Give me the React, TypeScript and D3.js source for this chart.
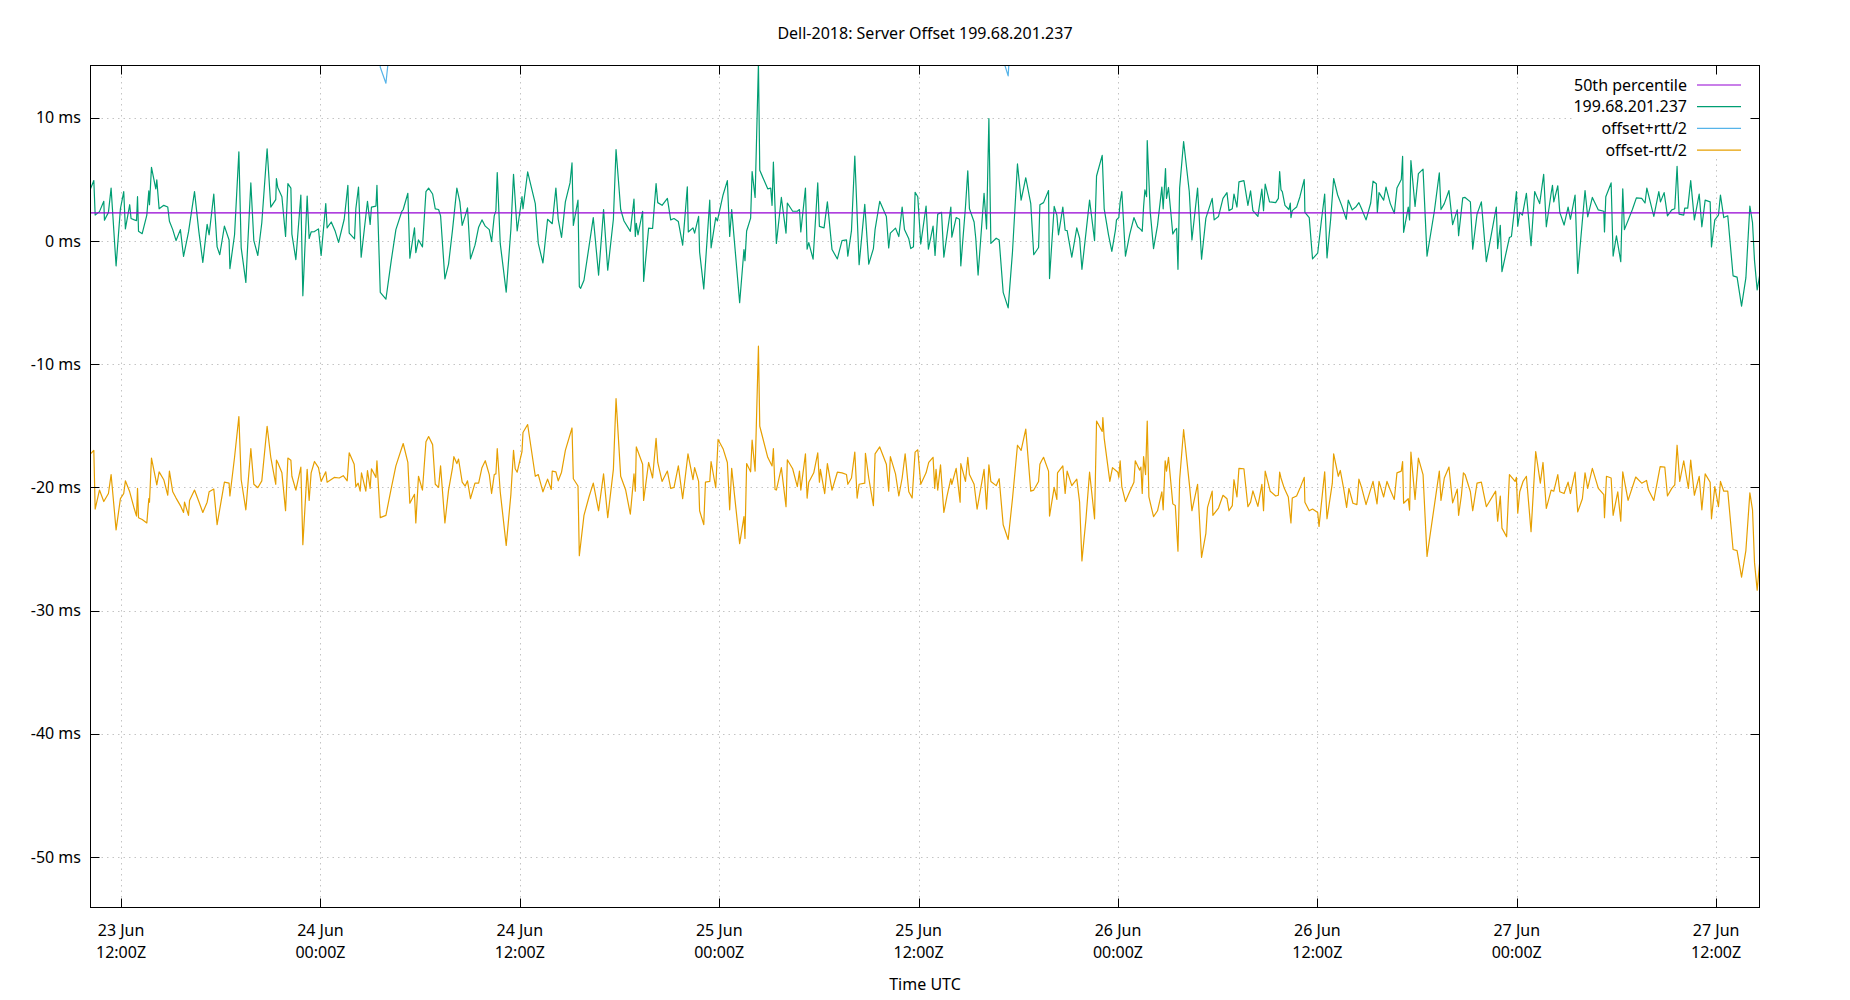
import * as d3 from 'd3'

const WIDTH = 1850
const HEIGHT = 1000
const PLOT = { left: 90.5, right: 1759.5, top: 65.5, bottom: 907.5 }

const TITLE = 'Dell-2018: Server Offset 199.68.201.237'
const X_LABEL = 'Time UTC'
// hours in the series count from 23 Jun 12:00Z
const START = Date.UTC(2018, 5, 23, 12)
const X_DOMAIN_HOURS = [-1.84, 98.61]
const Y_DOMAIN = [-54.1, 14.24]
const Y_TICKS = [10, 0, -10, -20, -30, -40, -50]
const MEDIAN = 2.28

const LEGEND = [
  { label: '50th percentile', color: '#9400d3' },
  { label: '199.68.201.237', color: '#009e73' },
  { label: 'offset+rtt/2', color: '#56b4e9' },
  { label: 'offset-rtt/2', color: '#e69f00' },
]

// [hours, ms]
const OFFSET: [number, number][] = [
  [-1.84,4.23],[-1.64,4.90],[-1.56,2.10],[-1.30,2.38],[-1.04,3.22],[-1.00,1.68],[-0.76,2.32],[-0.60,4.29],[-0.30,-2.02],[-0.04,2.61],[0.16,4.01],[0.26,0.98],[0.52,2.94],[0.60,1.82],[0.80,1.71],[0.93,1.65],[0.99,3.59],[1.05,0.78],[1.27,0.59],[1.55,2.10],[1.67,4.06],[1.71,2.94],[1.83,5.97],[2.09,4.23],[2.15,4.96],[2.29,2.61],[2.57,2.89],[2.81,2.75],[2.91,1.60],[3.11,0.92],[3.31,0.03],[3.57,0.92],[3.76,-1.26],[4.06,0.73],[4.42,4.01],[4.68,0.78],[4.92,-1.74],[5.18,1.34],[5.30,0.50],[5.58,3.81],[5.78,-0.48],[5.94,-1.12],[6.22,1.20],[6.50,0.08],[6.55,-2.24],[6.83,0.50],[7.09,7.23],[7.23,-0.56],[7.51,-3.36],[7.81,4.71],[7.99,0.03],[8.23,-1.18],[8.47,1.48],[8.79,7.48],[9.01,2.75],[9.31,3.36],[9.35,5.07],[9.43,4.34],[9.68,3.59],[9.90,0.36],[10.04,4.65],[10.22,4.29],[10.28,0.56],[10.52,-1.51],[10.82,3.73],[10.94,-4.45],[11.20,3.64],[11.32,0.20],[11.44,0.73],[11.64,0.76],[11.88,0.98],[12.04,-1.18],[12.32,3.03],[12.40,1.06],
  [12.65,1.54],[12.89,0.78],[13.09,-0.11],[13.43,1.76],[13.65,4.51],[13.73,0.64],[14.05,0.17],[14.13,2.61],[14.29,4.37],[14.45,-1.32],[14.83,3.22],[14.99,1.34],[15.07,2.75],[15.34,2.83],[15.40,4.51],[15.60,-4.17],[15.94,-4.73],[16.26,-1.60],[16.54,0.92],[16.90,2.41],[16.98,2.55],[17.26,3.87],[17.38,-1.40],[17.66,1.06],[17.74,-0.95],[17.90,0.08],[18.14,-0.48],[18.35,4.01],[18.51,4.29],[18.75,3.81],[18.91,2.61],[19.11,2.55],[19.23,2.04],[19.49,-3.08],[19.71,-1.88],[19.95,0.92],[20.21,4.29],[20.39,3.17],[20.53,1.26],[20.71,2.04],[20.85,2.69],[21.03,-1.46],[21.30,-0.34],[21.52,1.12],[21.72,1.71],[21.92,1.20],[22.16,0.92],[22.30,-0.06],[22.46,2.04],[22.56,2.46],[22.64,5.55],[22.82,-0.20],[23.18,-4.15],[23.46,0.92],[23.62,5.41],[23.84,0.81],[24.13,3.59],[24.19,2.61],[24.47,5.60],[24.93,3.03],[25.11,-0.20],[25.39,-1.79],[25.67,1.76],[25.95,1.40],[26.17,4.29],[26.31,1.76],[26.51,0.28],[26.74,3.17],
  [27.02,4.71],[27.14,6.33],[27.22,1.26],[27.50,3.31],[27.58,-3.70],[27.66,-3.84],[27.86,-3.19],[28.16,-0.48],[28.42,1.90],[28.74,-2.77],[29.04,2.55],[29.29,-2.38],[29.63,1.76],[29.79,7.42],[30.07,2.55],[30.27,1.62],[30.65,0.78],[30.87,3.39],[30.95,0.36],[31.01,1.43],[31.11,0.50],[31.39,2.41],[31.45,-3.28],[31.75,1.04],[31.99,1.01],[32.20,4.65],[32.30,3.11],[32.56,2.89],[32.88,3.45],[33.08,1.71],[33.28,1.82],[33.54,1.57],[33.80,-0.34],[34.08,4.40],[34.14,0.73],[34.42,1.06],[34.52,0.64],[34.76,1.99],[34.82,-0.90],[35.07,-3.89],[35.43,3.31],[35.51,-0.56],[35.79,1.90],[35.89,1.62],[36.23,3.73],[36.49,4.90],[36.63,0.36],[36.75,2.55],[37.23,-5.01],[37.49,-0.70],[37.55,-1.60],[37.65,0.81],[37.89,1.85],[37.98,5.63],[38.16,3.53],[38.36,14.4],[38.44,5.74],[38.92,4.23],[39.10,4.29],[39.18,2.89],[39.26,6.39],[39.44,-0.20],[39.74,3.53],[40.02,0.64],[40.10,3.08],[40.42,2.41],[40.70,2.41],[40.83,2.55],[40.91,0.73],
  [41.19,4.29],[41.29,-0.67],[41.39,-0.14],[41.65,-1.48],[41.93,4.71],[42.03,1.18],[42.31,1.06],[42.51,3.17],[42.79,-0.70],[43.11,-1.46],[43.39,0.03],[43.66,0.08],[43.74,-1.23],[43.96,0.84],[44.16,6.89],[44.42,-1.93],[44.76,2.97],[45.00,-1.88],[45.28,-0.62],[45.38,0.92],[45.66,3.22],[46.06,1.99],[46.20,-0.56],[46.30,0.64],[46.61,1.04],[46.81,0.36],[47.01,2.75],[47.15,0.92],[47.41,0.17],[47.53,-0.62],[47.69,-0.48],[47.79,3.95],[47.95,3.59],[48.13,-0.25],[48.45,2.83],[48.59,-0.67],[48.87,1.20],[48.99,-1.18],[49.15,2.18],[49.38,2.32],[49.52,-1.32],[49.94,2.75],[50.00,0.31],[50.26,1.90],[50.46,1.76],[50.54,-2.02],[50.82,2.75],[50.96,5.69],[51.06,2.61],[51.34,1.54],[51.44,0.22],[51.58,-2.77],[51.94,3.87],[52.09,0.98],[52.23,9.94],[52.35,-0.20],[52.67,0.22],[52.85,0.08],[53.09,-4.17],[53.39,-5.43],[53.65,-0.90],[53.95,6.25],[54.17,3.31],[54.45,5.13],[54.75,3.03],[54.93,-1.12],[55.22,-0.53],[55.30,2.94],
  [55.52,3.11],[55.82,4.09],[55.88,-3.05],[56.16,2.80],[56.32,2.10],[56.42,0.50],[56.68,2.75],[56.82,0.87],[56.94,0.84],[57.22,-1.32],[57.52,1.06],[57.69,0.22],[57.83,-2.30],[58.29,3.31],[58.59,0.03],[58.71,5.27],[59.05,6.95],[59.17,2.61],[59.43,0.50],[59.63,-0.84],[59.85,0.92],[59.91,1.71],[60.05,1.90],[60.13,3.17],[60.23,4.01],[60.45,-1.23],[60.70,0.50],[60.96,1.90],[61.18,1.15],[61.38,0.92],[61.46,0.78],[61.54,2.75],[61.62,4.15],[61.72,3.59],[61.76,8.15],[61.94,2.38],[62.14,-0.62],[62.38,1.26],[62.64,4.37],[62.72,2.61],[62.86,5.88],[62.92,3.45],[63.04,4.34],[63.30,0.56],[63.45,0.92],[63.53,1.01],[63.61,-2.30],[63.71,4.29],[63.95,8.07],[64.29,4.01],[64.45,0.08],[64.79,4.29],[65.03,-1.48],[65.29,1.85],[65.67,3.45],[65.79,1.71],[66.05,1.99],[66.32,3.45],[66.56,3.92],[66.68,2.46],[66.88,2.61],[66.98,3.81],[67.16,2.75],[67.28,4.79],[67.58,4.90],[67.82,2.89],[67.98,4.06],[68.12,2.46],[68.42,1.99],[68.66,4.20],[68.76,2.46],[68.86,4.62],[69.12,3.17],[69.49,3.11],[69.65,3.45],[69.73,5.63],
  [69.81,4.15],[69.89,4.01],[70.05,2.89],[70.29,2.55],[70.37,3.08],[70.41,1.90],[70.49,2.46],[70.75,2.75],[70.95,3.59],[71.21,4.99],[71.25,2.32],[71.51,1.90],[71.71,-1.46],[72.02,-0.98],[72.24,1.62],[72.44,3.81],[72.58,-1.37],[72.80,1.76],[72.98,5.07],[73.22,3.73],[73.46,2.89],[73.74,1.76],[73.86,3.31],[74.10,2.52],[74.34,2.80],[74.50,3.11],[74.66,2.61],[74.93,1.71],[75.21,3.08],[75.35,4.85],[75.55,4.65],[75.61,2.32],[75.71,3.92],[75.99,3.31],[76.13,4.37],[76.39,3.03],[76.63,2.24],[76.79,4.29],[77.05,4.99],[77.13,6.86],[77.19,0.70],[77.47,2.75],[77.55,1.71],[77.63,6.53],[77.88,2.80],[78.08,5.46],[78.36,5.83],[78.60,-1.23],[79.04,2.41],[79.34,5.52],[79.44,2.55],[79.64,3.03],[79.92,4.09],[80.14,1.32],[80.42,2.52],[80.50,0.42],[80.67,2.52],[80.75,3.50],[80.89,3.53],[81.21,3.17],[81.35,-0.67],[81.61,2.18],[81.87,3.17],[82.17,-1.68],[82.77,2.75],[82.85,-0.62],[83.01,1.26],[83.11,-2.49],[83.56,0.28],[83.68,0.36],[83.98,4.01],[84.06,1.20],
  [84.18,2.32],[84.34,2.10],[84.58,3.87],[84.86,-0.39],[85.08,4.01],[85.38,3.03],[85.62,5.41],[85.78,1.15],[86.07,3.87],[86.15,4.51],[86.23,3.17],[86.47,4.48],[86.59,2.32],[86.85,1.29],[87.09,2.75],[87.23,1.76],[87.51,3.73],[87.67,-2.63],[88.11,4.09],[88.27,1.96],[88.55,3.53],[88.91,2.52],[89.24,2.41],[89.28,0.73],[89.36,3.59],[89.68,4.71],[89.80,-1.23],[90.00,0.42],[90.26,-1.68],[90.38,4.23],[90.48,0.92],[90.96,2.55],[91.20,3.50],[91.52,3.45],[91.72,3.08],[91.83,4.29],[92.25,1.99],[92.55,4.01],[92.65,3.17],[92.87,3.92],[93.07,2.04],[93.33,2.52],[93.51,2.61],[93.65,6.05],[93.77,2.18],[94.05,2.10],[94.11,2.66],[94.29,2.66],[94.47,4.90],[94.69,1.71],[94.98,3.81],[95.14,1.15],[95.34,3.31],[95.64,3.17],[95.72,-0.48],[95.92,1.71],[96.14,2.10],[96.26,3.73],[96.46,1.90],[96.70,2.04],[97.02,-2.83],[97.26,-2.94],[97.53,-5.29],[97.79,-3.00],[98.03,2.83],[98.19,1.48],[98.31,-1.60],[98.47,-3.98],[98.63,-2.72],
]

// offset-rtt/2, [hours, ms]
const OFFSET_MINUS: [number, number][] = [
  [-1.84,-17.28],[-1.64,-17.00],[-1.56,-21.76],[-1.30,-20.22],[-1.04,-21.15],[-0.76,-20.50],[-0.60,-18.96],[-0.30,-23.45],[-0.04,-20.92],[0.16,-20.50],[0.26,-19.47],[0.52,-20.36],[0.80,-21.76],[0.93,-22.33],[0.99,-20.08],[1.05,-22.46],[1.27,-22.61],[1.55,-22.89],[1.67,-20.92],[1.71,-21.20],[1.83,-17.62],[2.09,-19.38],[2.15,-19.80],[2.29,-18.74],[2.57,-19.38],[2.81,-20.64],[2.91,-18.68],[3.11,-20.36],[3.31,-20.87],[3.57,-21.48],[3.76,-22.04],[3.82,-21.20],[4.06,-22.27],[4.12,-21.06],[4.42,-20.22],[4.68,-21.15],[4.92,-22.04],[5.18,-21.20],[5.30,-20.36],[5.58,-20.14],[5.78,-23.03],[5.94,-21.76],[6.22,-19.58],[6.50,-19.66],[6.55,-20.70],[6.83,-17.56],[7.09,-14.26],[7.23,-19.38],[7.51,-21.82],[7.81,-16.86],[7.99,-19.75],[8.23,-20.03],[8.47,-19.47],[8.79,-15.04],[9.01,-17.56],[9.31,-19.75],[9.35,-17.79],[9.43,-17.98],[9.68,-18.82],[9.90,-21.90],[10.04,-17.62],[10.22,-17.79],[10.28,-19.10],[10.52,-20.22],[10.82,-18.35],[10.94,-24.65],[11.20,-18.54],[11.32,-21.06],[11.44,-18.82],[11.64,-17.90],[11.88,-18.40],[12.04,-19.52],[12.32,-18.74],[12.40,-19.58],
  [12.83,-19.19],[13.13,-19.24],[13.37,-19.05],[13.61,-19.47],[13.73,-17.20],[14.03,-18.12],[14.13,-19.94],[14.27,-19.66],[14.39,-20.31],[14.47,-18.82],[14.73,-20.31],[14.83,-18.63],[14.99,-20.08],[15.07,-18.49],[15.34,-19.19],[15.40,-17.84],[15.60,-22.46],[15.94,-22.27],[16.26,-20.08],[16.54,-18.26],[16.98,-16.44],[17.26,-17.98],[17.38,-21.29],[17.66,-20.56],[17.74,-22.89],[17.90,-19.10],[18.14,-20.22],[18.35,-16.30],[18.51,-15.88],[18.75,-16.53],[18.91,-19.75],[19.11,-20.00],[19.23,-18.26],[19.49,-22.89],[19.71,-20.22],[19.95,-18.40],[20.03,-17.51],[20.21,-18.07],[20.31,-17.70],[20.53,-19.58],[20.71,-19.89],[20.85,-19.47],[21.03,-20.92],[21.30,-19.66],[21.52,-19.66],[21.72,-18.40],[21.92,-17.84],[22.16,-18.96],[22.30,-20.50],[22.46,-18.96],[22.56,-18.91],[22.64,-16.86],[22.82,-20.36],[23.18,-24.71],[23.46,-20.59],[23.62,-17.00],[23.72,-18.49],[23.84,-18.77],[24.13,-17.09],[24.19,-15.55],[24.47,-14.90],[24.93,-19.10],[25.11,-18.96],[25.39,-20.36],[25.67,-19.33],[25.89,-20.17],[25.95,-18.68],[26.17,-18.74],[26.31,-19.47],[26.51,-18.77],[26.74,-17.00],
  [27.14,-15.18],[27.22,-19.30],[27.50,-19.89],[27.58,-25.55],[27.86,-22.27],[28.16,-20.78],[28.42,-19.66],[28.74,-21.90],[29.04,-18.91],[29.29,-22.46],[29.63,-18.54],[29.79,-12.80],[30.07,-19.10],[30.37,-20.22],[30.65,-22.18],[30.87,-18.91],[30.95,-20.31],[31.01,-16.72],[31.39,-18.12],[31.45,-21.06],[31.75,-17.98],[31.99,-19.24],[32.20,-16.02],[32.30,-17.98],[32.56,-19.52],[32.88,-18.68],[33.08,-20.08],[33.28,-20.00],[33.54,-18.26],[33.80,-20.92],[34.12,-17.28],[34.42,-19.38],[34.52,-18.40],[34.76,-19.52],[34.82,-21.90],[35.07,-23.03],[35.17,-19.58],[35.43,-19.52],[35.51,-17.90],[35.79,-20.03],[35.93,-16.11],[36.23,-16.86],[36.49,-17.98],[36.63,-21.82],[36.75,-18.46],[37.23,-24.57],[37.49,-22.38],[37.55,-24.15],[37.65,-18.07],[37.89,-18.74],[37.98,-16.16],[38.16,-18.68],[38.36,-8.54],[38.44,-15.04],[38.92,-17.56],[39.18,-18.26],[39.26,-16.86],[39.36,-20.17],[39.44,-20.22],[39.74,-18.40],[40.02,-21.57],[40.10,-17.76],[40.42,-18.49],[40.70,-19.94],[40.83,-18.68],[40.91,-20.22],
  [41.19,-17.28],[41.29,-20.87],[41.39,-19.58],[41.69,-18.82],[41.93,-17.20],[42.03,-19.58],[42.09,-18.54],[42.35,-20.50],[42.51,-18.07],[42.79,-20.22],[43.11,-18.77],[43.39,-18.82],[43.66,-18.96],[43.74,-19.75],[43.96,-19.24],[44.16,-17.14],[44.30,-20.87],[44.42,-19.75],[44.76,-19.66],[44.80,-17.23],[45.00,-19.24],[45.28,-21.48],[45.38,-17.28],[45.66,-16.72],[46.06,-18.12],[46.20,-20.31],[46.30,-17.51],[46.61,-18.91],[46.81,-20.70],[47.01,-19.24],[47.19,-17.28],[47.41,-20.36],[47.61,-20.87],[47.79,-17.14],[47.95,-16.95],[48.13,-19.75],[48.45,-18.82],[48.61,-17.98],[48.87,-17.56],[48.97,-20.08],[49.05,-18.54],[49.15,-20.22],[49.32,-18.18],[49.52,-22.04],[49.70,-20.78],[49.94,-19.30],[50.00,-19.75],[50.26,-18.46],[50.50,-21.20],[50.54,-18.07],[50.82,-19.52],[50.96,-17.56],[51.06,-18.96],[51.34,-19.75],[51.52,-21.76],[51.94,-18.54],[52.09,-21.76],[52.23,-18.18],[52.35,-19.52],[52.67,-19.86],[52.85,-19.30],[53.09,-23.03],[53.39,-24.23],[53.65,-20.92],[53.95,-16.58],[54.17,-17.00],[54.45,-15.27],[54.75,-20.31],[54.93,-20.22],[55.22,-19.52],[55.30,-18.12],[55.40,-17.84],
  [55.52,-17.56],[55.82,-18.68],[55.88,-22.33],[56.16,-20.00],[56.32,-20.98],[56.36,-18.82],[56.68,-18.26],[56.82,-20.50],[56.94,-18.68],[57.22,-19.86],[57.52,-19.33],[57.69,-21.20],[57.83,-25.97],[58.07,-22.61],[58.29,-18.77],[58.59,-22.55],[58.71,-14.62],[59.05,-15.46],[59.09,-14.34],[59.17,-16.02],[59.51,-19.52],[59.67,-18.40],[59.99,-18.77],[60.05,-19.19],[60.13,-17.84],[60.23,-19.94],[60.45,-21.15],[60.70,-20.36],[60.96,-19.58],[61.04,-17.84],[61.30,-18.60],[61.38,-18.35],[61.46,-20.50],[61.54,-17.51],[61.66,-18.96],[61.76,-14.62],[61.86,-20.78],[62.14,-22.38],[62.38,-21.90],[62.64,-20.36],[62.72,-21.82],[62.84,-17.84],[62.92,-18.68],[63.04,-17.56],[63.30,-21.34],[63.45,-21.48],[63.61,-25.18],[63.71,-19.38],[63.95,-15.32],[64.29,-19.66],[64.45,-21.90],[64.79,-19.75],[65.03,-25.69],[65.29,-23.73],[65.39,-21.62],[65.67,-20.31],[65.71,-22.27],[66.05,-21.68],[66.32,-20.64],[66.56,-20.92],[66.68,-21.90],[66.88,-21.48],[66.98,-19.38],[67.16,-20.78],[67.28,-18.46],[67.58,-18.49],[67.82,-21.57],[67.98,-21.20],[68.12,-20.28],[68.42,-21.54],[68.66,-19.75],[68.76,-21.90],[68.86,-18.68],[69.16,-20.31],[69.49,-20.70],[69.65,-20.64],[69.73,-18.77],
  [69.81,-19.24],[70.01,-20.08],[70.25,-20.78],[70.41,-22.89],[70.49,-20.87],[70.75,-20.70],[70.95,-20.08],[71.21,-19.19],[71.25,-21.20],[71.51,-21.90],[71.71,-21.76],[72.02,-22.04],[72.10,-23.17],[72.44,-18.74],[72.58,-22.55],[72.90,-19.66],[72.98,-17.28],[73.26,-19.10],[73.38,-18.63],[73.58,-20.08],[73.76,-21.62],[73.90,-20.08],[74.14,-21.29],[74.38,-21.40],[74.50,-19.33],[74.66,-20.00],[74.93,-21.40],[75.35,-19.52],[75.59,-21.34],[75.71,-19.52],[75.99,-20.78],[76.19,-19.52],[76.39,-20.22],[76.63,-20.98],[76.79,-18.82],[77.05,-18.68],[77.13,-17.90],[77.19,-21.29],[77.47,-20.92],[77.55,-21.85],[77.63,-17.14],[77.88,-20.98],[78.08,-17.62],[78.36,-18.96],[78.60,-25.60],[79.04,-21.48],[79.34,-18.68],[79.44,-21.06],[79.64,-19.24],[79.92,-18.35],[80.14,-21.26],[80.42,-20.14],[80.50,-22.27],[80.67,-20.64],[80.79,-18.82],[80.89,-18.96],[81.21,-20.36],[81.35,-21.90],[81.61,-19.66],[81.87,-19.58],[82.17,-21.57],[82.73,-20.31],[82.85,-22.75],[83.01,-20.70],[83.11,-23.31],[83.39,-24.01],[83.56,-18.96],[83.90,-19.52],[83.98,-19.19],[84.06,-22.10],
  [84.18,-20.36],[84.38,-19.52],[84.58,-19.10],[84.86,-23.59],[85.14,-17.09],[85.42,-19.66],[85.58,-17.98],[85.78,-21.71],[86.07,-20.22],[86.23,-20.31],[86.47,-18.96],[86.59,-20.36],[86.85,-20.50],[87.09,-19.58],[87.23,-20.50],[87.51,-18.77],[87.67,-21.99],[87.95,-20.92],[88.11,-18.82],[88.27,-20.08],[88.55,-18.46],[88.91,-20.08],[89.24,-20.59],[89.28,-22.46],[89.40,-19.10],[89.68,-19.24],[89.80,-22.27],[90.08,-20.36],[90.26,-22.75],[90.38,-18.74],[90.70,-21.06],[91.16,-19.16],[91.52,-19.66],[91.81,-19.44],[91.93,-20.22],[92.25,-21.06],[92.63,-18.32],[92.91,-18.35],[93.07,-20.70],[93.33,-20.08],[93.51,-19.80],[93.65,-16.58],[93.81,-19.52],[94.05,-17.84],[94.33,-20.08],[94.47,-17.79],[94.69,-20.64],[94.98,-19.10],[95.14,-21.82],[95.34,-18.91],[95.64,-19.58],[95.72,-22.55],[95.92,-19.94],[96.14,-21.57],[96.26,-19.52],[96.46,-20.31],[96.70,-20.31],[97.02,-25.04],[97.26,-25.13],[97.53,-27.28],[97.79,-25.13],[98.03,-20.45],[98.19,-21.82],[98.31,-26.11],[98.47,-28.35],[98.63,-25.97],
]

// offset+rtt/2 is above the plot almost everywhere; only two dips show
const OFFSET_PLUS_DIPS: [number, number][][] = [
  [[15.40,26.9],[15.60,14.1],[15.94,12.8],[16.26,16.9]],
  [[52.85,19.5],[53.09,14.7],[53.39,13.4],[53.65,19.1]],
]

const FONT = '"Noto Sans", "Open Sans", sans-serif'
const GRID_COLOR = '#c4c4c4'
const TICK_LEN = 9

const toDate = (h: number) => new Date(START + h * 3600 * 1000)
const fmtDay = d3.utcFormat('%d %b')
const fmtTime = d3.utcFormat('%H:%MZ')

export default function App() {
  const x = d3.scaleUtc()
    .domain(X_DOMAIN_HOURS.map(toDate))
    .range([PLOT.left, PLOT.right])
  const y = d3.scaleLinear()
    .domain(Y_DOMAIN)
    .range([PLOT.bottom, PLOT.top])

  const line = d3.line<[number, number]>()
    .x(d => x(toDate(d[0])))
    .y(d => y(d[1]))

  const xTicks = x.ticks(d3.utcHour.every(12)!)
  const cx = (PLOT.left + PLOT.right) / 2

  return (
    <svg
      width={WIDTH}
      height={HEIGHT}
      viewBox={`0 0 ${WIDTH} ${HEIGHT}`}
      style={{ position: 'absolute', left: 0, top: 0, background: '#fff', fontFamily: FONT }}
    >
      <defs>
        <clipPath id="plot-clip">
          <rect x={PLOT.left} y={PLOT.top} width={PLOT.right - PLOT.left} height={PLOT.bottom - PLOT.top} />
        </clipPath>
      </defs>

      <rect x={0} y={0} width={WIDTH} height={HEIGHT} fill="#fff" />

      {/* dotted grid */}
      {xTicks.map(t => (
        <line
          key={`gx-${+t}`}
          x1={Math.round(x(t)) + 0.5}
          x2={Math.round(x(t)) + 0.5}
          y1={PLOT.top}
          y2={PLOT.bottom}
          stroke={GRID_COLOR}
          strokeWidth={1}
          strokeDasharray="1.5,4"
        />
      ))}
      {Y_TICKS.map(v => (
        <line
          key={`gy-${v}`}
          x1={PLOT.left}
          x2={PLOT.right}
          y1={Math.round(y(v)) + 0.5}
          y2={Math.round(y(v)) + 0.5}
          stroke={GRID_COLOR}
          strokeWidth={1}
          strokeDasharray="1.5,4"
        />
      ))}

      <g clipPath="url(#plot-clip)" fill="none" strokeLinejoin="round" strokeLinecap="round">
        <path d={line(OFFSET) || ''} stroke={LEGEND[1].color} strokeWidth={1.2} />
        {OFFSET_PLUS_DIPS.map((seg, i) => (
          <path key={`plus-${i}`} d={line(seg) || ''} stroke={LEGEND[2].color} strokeWidth={1.2} />
        ))}
        <path d={line(OFFSET_MINUS) || ''} stroke={LEGEND[3].color} strokeWidth={1.2} />
        <line
          x1={PLOT.left}
          x2={PLOT.right}
          y1={y(MEDIAN)}
          y2={y(MEDIAN)}
          stroke={LEGEND[0].color}
          strokeWidth={1.4}
        />
      </g>

      {/* opaque key */}
      <rect x={1573} y={PLOT.top + 1} width={175} height={92} fill="#fff" />
      {LEGEND.map((item, i) => {
        const ly = 85 + i * 21.7
        return (
          <g key={item.label}>
            <text x={1687} y={ly} dy="0.35em" textAnchor="end" fontSize={16} fill="#000">
              {item.label}
            </text>
            <line x1={1697} x2={1741} y1={ly} y2={ly} stroke={item.color} strokeWidth={1.2} />
          </g>
        )
      })}

      {/* ticks */}
      {xTicks.map(t => {
        const tx = Math.round(x(t)) + 0.5
        return (
          <g key={`tx-${+t}`}>
            <line x1={tx} x2={tx} y1={PLOT.bottom} y2={PLOT.bottom - TICK_LEN} stroke="#000" />
            <line x1={tx} x2={tx} y1={PLOT.top} y2={PLOT.top + TICK_LEN} stroke="#000" />
            <text x={x(t)} y={936} textAnchor="middle" fontSize={16} fill="#000">{fmtDay(t)}</text>
            <text x={x(t)} y={957.7} textAnchor="middle" fontSize={16} fill="#000">{fmtTime(t)}</text>
          </g>
        )
      })}
      {Y_TICKS.map(v => {
        const ty = Math.round(y(v)) + 0.5
        return (
          <g key={`ty-${v}`}>
            <line x1={PLOT.left} x2={PLOT.left + TICK_LEN} y1={ty} y2={ty} stroke="#000" />
            <line x1={PLOT.right} x2={PLOT.right - TICK_LEN} y1={ty} y2={ty} stroke="#000" />
            <text x={81} y={y(v)} dy="0.35em" textAnchor="end" fontSize={16} fill="#000">{`${v} ms`}</text>
          </g>
        )
      })}

      <rect
        x={PLOT.left}
        y={PLOT.top}
        width={PLOT.right - PLOT.left}
        height={PLOT.bottom - PLOT.top}
        fill="none"
        stroke="#000"
        strokeWidth={1}
      />

      <text x={cx} y={38.5} textAnchor="middle" fontSize={16} fill="#000">{TITLE}</text>
      <text x={cx} y={989.5} textAnchor="middle" fontSize={16} fill="#000">{X_LABEL}</text>
    </svg>
  )
}
